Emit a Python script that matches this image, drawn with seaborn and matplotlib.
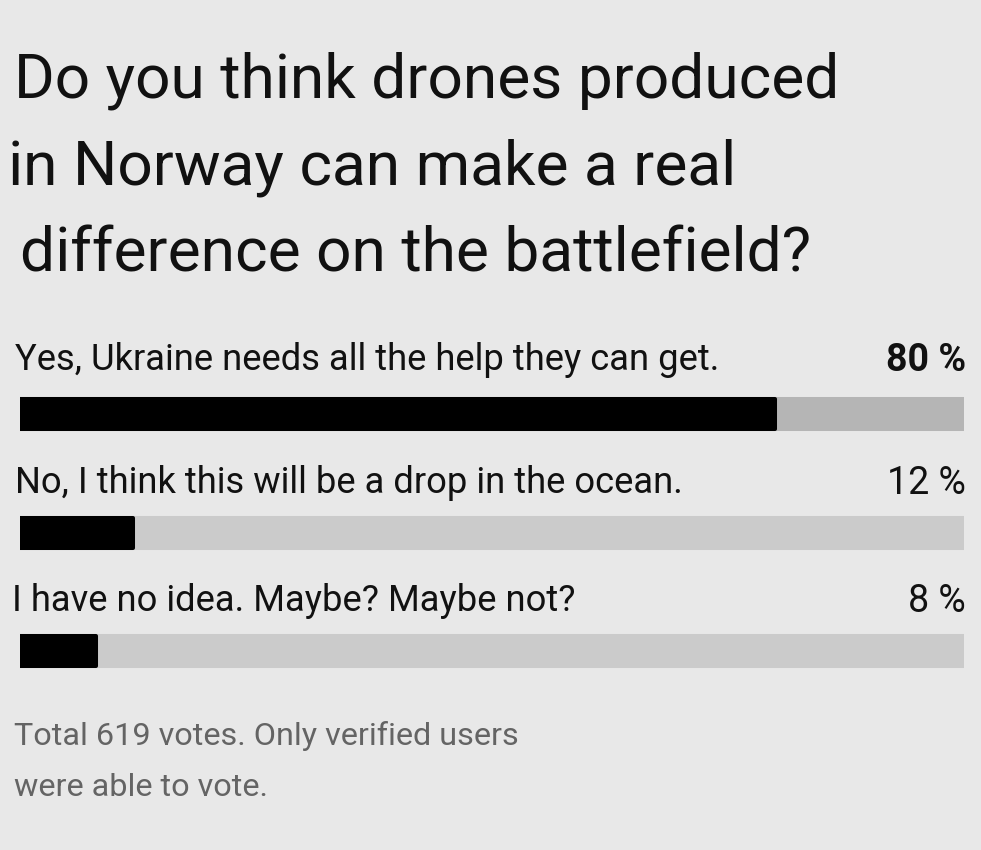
import pandas as pd
import seaborn as sns
import matplotlib.pyplot as plt

title_lines = ["Do you think drones produced",
               "in Norway can make a real",
               "difference on the battlefield?"]
options = ["Yes, Ukraine needs all the help they can get.",
           "No, I think this will be a drop in the ocean.",
           "I have no idea. Maybe? Maybe not?"]
shares = [80, 12, 8]
footer = ["Total 619 votes. Only verified users", "were able to vote."]

W, H = 981, 850
bg = "#e8e8e8"

sns.set_theme(style="white")
plt.rcParams['font.family'] = ['Roboto', 'DejaVu Sans']

fig = plt.figure(figsize=(W / 100, H / 100), dpi=100, facecolor=bg)

# axes spans the bar track horizontally, full height vertically
x0, x1 = 20, 964
ax = fig.add_axes([x0 / W, 0, (x1 - x0) / W, 1])
ax.set_facecolor("none")

df = pd.DataFrame({"option": options, "share": shares, "full": [100] * 3})
track = dict(zip(options, ["#b5b5b5", "#cbcbcb", "#cbcbcb"]))

sns.barplot(data=df, y="option", x="full", hue="option", palette=track,
            width=30 / 118.5, legend=False, ax=ax, saturation=1)
sns.barplot(data=df, y="option", x="share", color="black",
            width=30 / 118.5, ax=ax, saturation=1)
for p in ax.patches:
    p.set_edgecolor(p.get_facecolor())
    p.set_linewidth(2.9)
    p.set_joinstyle("round")

# map category 0 -> 414px, 1 unit = 118.5px
ax.set_xlim(0, 100)
ax.set_ylim((H - 414) / 118.5, -414 / 118.5)
ax.axis("off")


def px(x, y):
    return x / W, 1 - y / H


ys_title = [81, 168, 255]
xs_title = [14, 8, 20]
for t, x, y in zip(title_lines, xs_title, ys_title):
    fig.text(*px(x, y), t, fontsize=44.8, color="#111111", va="center", ha="left")

label_y = [360, 483, 601]
label_x = [15, 15, 12]
for i, (opt, s) in enumerate(zip(options, shares)):
    fig.text(*px(label_x[i], label_y[i]), opt, fontsize=26.2, color="#111111",
             va="center", ha="left")
    fig.text(*px(966, label_y[i]), f"{s} %", fontsize=27,
             fontweight="bold" if i == 0 else "normal",
             color="#111111", va="center", ha="right")

for t, y in zip(footer, [736, 787]):
    fig.text(*px(14, y), t, fontsize=23.3, color="#646464", va="center", ha="left")

fig.savefig("out.png", dpi=100, facecolor=bg)
